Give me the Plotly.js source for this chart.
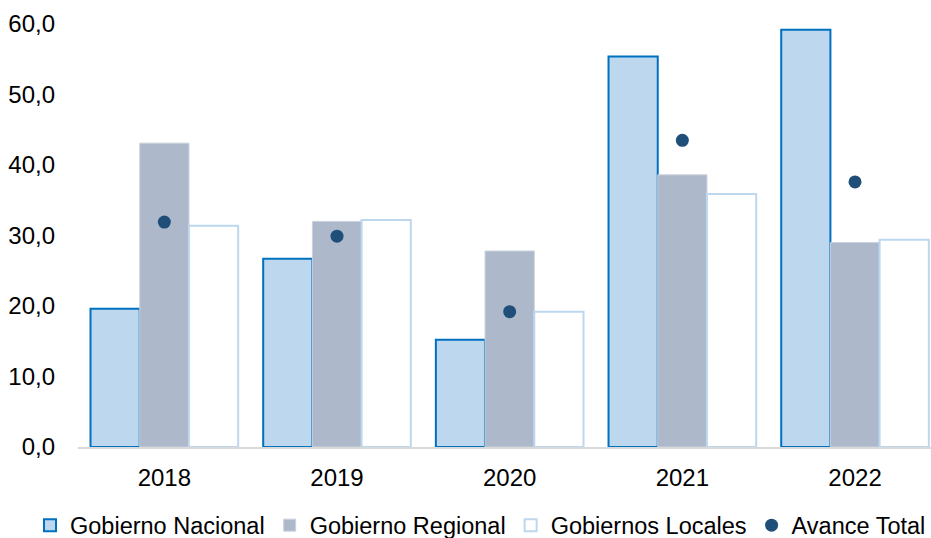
<!DOCTYPE html>
<html>
<head>
<meta charset="utf-8">
<script src="https://cdn.plot.ly/plotly-3.0.1.min.js"></script>
<style>html,body{margin:0;padding:0;background:#fff;overflow:hidden;}#chart{width:931px;height:548px;}</style>
</head>
<body>
<div id="chart"></div>
<script>
const years = ["2018", "2019", "2020", "2021", "2022"];
const gobiernoNacional = [19.6, 26.7, 15.2, 55.4, 59.2];
const gobiernoRegional = [43.1, 32.0, 27.8, 38.6, 29.0];
const gobiernosLocales = [31.4, 32.2, 19.2, 35.9, 29.4];
const avanceTotal = [31.9, 29.9, 19.2, 43.5, 37.6];
const yTicks = [0, 10, 20, 30, 40, 50, 60];

const FONT = "Liberation Sans, Arial, sans-serif";

const traces = [
  {type: "bar", name: "Gobierno Nacional", x: years, y: gobiernoNacional,
   marker: {color: "#BDD7EE", line: {color: "#0070C0", width: 2}}},
  {type: "bar", name: "Gobierno Regional", x: years, y: gobiernoRegional,
   marker: {color: "#ADB9CA", line: {color: "#C9D1DD", width: 1}}},
  {type: "bar", name: "Gobiernos Locales", x: years, y: gobiernosLocales,
   marker: {color: "#FFFFFF", line: {color: "#BDD7EE", width: 2}}},
  {type: "scatter", mode: "markers", name: "Avance Total", x: years, y: avanceTotal,
   marker: {color: "#1F4E79", size: 13}}
];

const layout = {
  width: 931, height: 548,
  margin: {l: 77.5, r: 0, t: 24, b: 100.5, pad: 0},
  paper_bgcolor: "#fff", plot_bgcolor: "#fff",
  font: {family: FONT, size: 24, color: "#000"},
  separators: ",.",
  barmode: "group",
  bargap: 0.145,
  bargroupgap: 0,
  showlegend: true,
  legend: {orientation: "h", xref: "paper", yref: "paper",
           x: -0.0553, xanchor: "left", y: -0.2373, yanchor: "bottom",
           font: {family: FONT, size: 23.5, color: "#000"}, itemgap: 0, itemwidth: 30,
           traceorder: "normal", borderwidth: 0},
  xaxis: {type: "category", range: [-0.5, 4.44], showgrid: false, zeroline: false,
          showline: true, linecolor: "#D9D9D9", linewidth: 2, ticks: "",
          ticklabelstandoff: 8, tickfont: {family: FONT, size: 24, color: "#000"}},
  yaxis: {range: [0, 60], tickvals: yTicks, tickformat: ".1f", showgrid: false,
          zeroline: false, showline: false, ticks: "", ticklabelstandoff: 22,
          tickfont: {family: FONT, size: 24, color: "#000"}}
};

Plotly.newPlot("chart", traces, layout, {displayModeBar: false, staticPlot: true});
</script>
</body>
</html>
